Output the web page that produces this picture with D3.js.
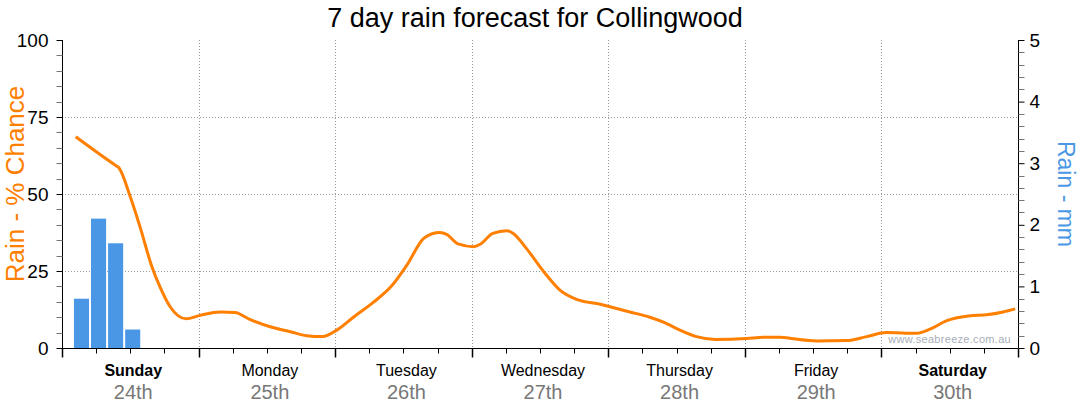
<!DOCTYPE html>
<html>
<head>
<meta charset="utf-8">
<script src="https://cdn.jsdelivr.net/npm/d3@7"></script>
<style>
  html, body { margin: 0; padding: 0; background: #fff; }
  svg { display: block; }
  text { font-family: "Liberation Sans", Arial, sans-serif; }
</style>
</head>
<body>
<svg id="chart" width="1080" height="414"></svg>
<script>
// ---- data ----
const days = ["Sunday", "Monday", "Tuesday", "Wednesday", "Thursday", "Friday", "Saturday"];
const dates = ["24th", "25th", "26th", "27th", "28th", "29th", "30th"];
const weekend = [true, false, false, false, false, false, true];

const chanceHours = [2.4, 9.5, 9.9, 12, 13.7, 15.8, 17.2, 19, 21.8, 24.3, 27.8, 30.4, 33, 36.6, 40.1, 43, 45.8,
  48.3, 51.2, 54.7, 57.9, 60.6, 63.7, 66.4, 67.6, 69.6, 72.3, 73.5, 75.7, 78.2, 79.3, 81.7, 84.9, 87.5, 90.7,
  94.6, 96.3, 99.8, 103.3, 105.7, 108.6, 111.5, 114.8, 120.3, 123.3, 126.2, 128.5, 132.6, 137.9, 141.4, 144.9,
  150.2, 152.5, 155.5, 159.6, 162.5, 165.4, 167.5];
const chanceValues = [68.6, 59.2, 58.7, 49.1, 39.4, 26.4, 19.9, 13.4, 9.5, 10.6, 11.7, 11.5, 9.3, 6.9, 5.3, 4.0, 3.7,
  5.8, 10, 14.8, 20.1, 26.9, 35.8, 37.5, 36.9, 33.8, 32.9, 33.7, 37.2, 38.1, 37.2, 32.1, 24.2, 18.8, 15.6,
  14.2, 13.4, 11.7, 10, 8.4, 5.8, 3.7, 2.8, 3.1, 3.5, 3.5, 3.0, 2.3, 2.4, 3.7, 5.0,
  4.8, 6.1, 8.9, 10.5, 10.8, 11.7, 12.7];

const rainHours = [2.1, 5.1, 8.1, 11.1];
const rainMm = [0.8, 2.1, 1.7, 0.3];

const chanceTicks = [0, 25, 50, 75, 100];
const mmTicks = [0, 1, 2, 3, 4, 5];

// ---- layout ----
const svg = d3.select("#chart");
const L = 62, R = 1018, T = 40, B = 348;
const orange = "#ff7f00", blue = "#4a97e6";
const FONT = "Liberation Sans, Arial, sans-serif";

const x = d3.scaleLinear().domain([0, 168]).range([L, R]);
const yL = d3.scaleLinear().domain([0, 100]).range([B, T]);
const yR = d3.scaleLinear().domain([0, 5]).range([B, T]);

// grid
const grid = svg.append("g").attr("stroke", "#999").attr("stroke-dasharray", "1,2").attr("stroke-width", 1);
[25, 50, 75].forEach(v => {
  grid.append("line").attr("x1", L).attr("x2", R).attr("y1", Math.round(yL(v)) + 0.5).attr("y2", Math.round(yL(v)) + 0.5);
});
d3.range(1, 7).forEach(d => {
  grid.append("line").attr("x1", Math.round(x(d * 24)) + 0.5).attr("x2", Math.round(x(d * 24)) + 0.5).attr("y1", T).attr("y2", B);
});

// bars
svg.append("g").selectAll("rect").data(rainHours).join("rect")
  .attr("x", (h) => x(h))
  .attr("width", (h) => x(h + 3) - x(h) - 2)
  .attr("y", (h, i) => yR(rainMm[i]))
  .attr("height", (h, i) => B - yR(rainMm[i]))
  .attr("fill", blue);

// line
const pts = chanceHours.map((h, i) => [h, chanceValues[i]]);
svg.append("path")
  .attr("d", d3.line().x(d => x(d[0])).y(d => yL(d[1])).curve(d3.curveMonotoneX)(pts))
  .attr("fill", "none").attr("stroke", orange).attr("stroke-width", 3).attr("stroke-linejoin", "round");

// watermark
svg.append("text").attr("x", 1011).attr("y", 343).attr("text-anchor", "end")
  .attr("font-size", 11).attr("fill", "#a8aeb8").attr("letter-spacing", 0.3).text("www.seabreeze.com.au");

// left axis
const leftAxis = d3.axisLeft(yL).tickValues(chanceTicks).tickSize(6).tickPadding(8);
const gL = svg.append("g").attr("transform", `translate(${L + 0.5},0)`).call(leftAxis);
gL.select(".domain").attr("d", `M0,${T}V${B}`).attr("stroke", "#000");
gL.selectAll(".tick line").attr("stroke", "#000");
gL.selectAll(".tick text").attr("font-size", 19).attr("fill", "#000").style("font-family", FONT);
d3.range(0, 101, 5).filter(v => v % 25 !== 0).forEach(v => {
  gL.append("line").attr("x1", -6).attr("x2", 0).attr("y1", Math.round(yL(v)) + 0.5).attr("y2", Math.round(yL(v)) + 0.5).attr("stroke", "#777");
});

// right axis
const rightAxis = d3.axisRight(yR).tickValues(mmTicks).tickFormat(d3.format("d")).tickSize(6).tickPadding(5);
const gR = svg.append("g").attr("transform", `translate(${R + 0.5},0)`).call(rightAxis);
gR.select(".domain").attr("d", `M0,${T}V${B}`).attr("stroke", "#000");
gR.selectAll(".tick line").attr("stroke", "#000");
gR.selectAll(".tick text").attr("font-size", 19).attr("fill", "#000").style("font-family", FONT);
d3.range(0, 26).map(i => i * 0.2).filter((v, i) => i % 5 !== 0).forEach(v => {
  gR.append("line").attr("x1", 0).attr("x2", 6).attr("y1", Math.round(yR(v)) + 0.5).attr("y2", Math.round(yR(v)) + 0.5).attr("stroke", "#777");
});

// bottom axis
const gB = svg.append("g").attr("transform", `translate(0,${B + 0.5})`);
gB.append("line").attr("x1", L - 5).attr("x2", R).attr("y1", 0).attr("y2", 0).attr("stroke", "#000");
d3.range(0, 169, 6).forEach(h => {
  const major = h % 24 === 0;
  gB.append("line").attr("x1", Math.round(x(h)) + 0.5).attr("x2", Math.round(x(h)) + 0.5)
    .attr("y1", 0).attr("y2", major ? 9 : 5).attr("stroke", "#000").attr("stroke-width", major ? 1.5 : 1);
});
days.forEach((d, i) => {
  const cx = x(i * 24 + 12) + 3;
  gB.append("text").attr("x", cx).attr("y", 27).attr("text-anchor", "middle")
    .attr("font-size", 16).attr("font-weight", weekend[i] ? "bold" : "normal").attr("fill", "#000").text(d);
  gB.append("text").attr("x", cx).attr("y", 50).attr("text-anchor", "middle")
    .attr("font-size", 20).attr("fill", "#777").text(dates[i]);
});

// titles
svg.append("text").attr("x", 535).attr("y", 27).attr("text-anchor", "middle")
  .attr("font-size", 27).attr("fill", "#000").text("7 day rain forecast for Collingwood");
svg.append("text").attr("transform", `translate(24,184) rotate(-90)`).attr("text-anchor", "middle")
  .attr("font-size", 26).attr("fill", orange).text("Rain - % Chance");
svg.append("text").attr("transform", `translate(1058,194) rotate(90)`).attr("text-anchor", "middle")
  .attr("font-size", 23).attr("fill", blue).text("Rain - mm");
</script>
</body>
</html>
